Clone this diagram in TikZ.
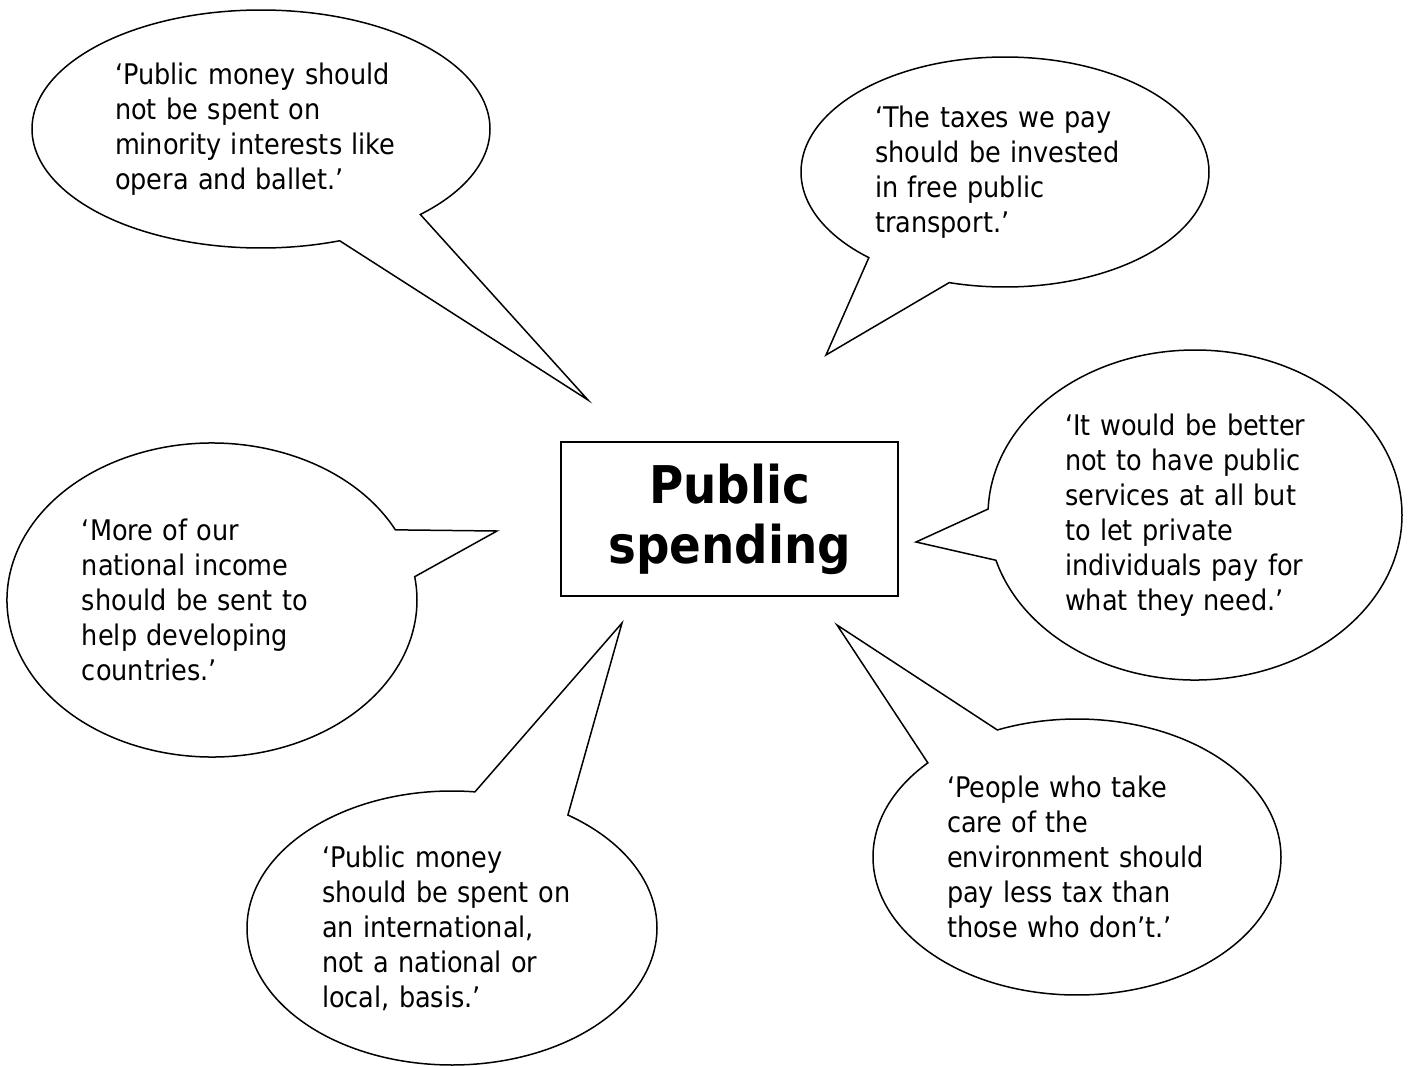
\documentclass[tikz,border=0pt]{standalone}
\usepackage{fontspec}
\setmainfont{DejaVu Sans Condensed}
\usetikzlibrary{shapes.callouts}

\begin{document}
\begin{tikzpicture}[x=0.5pt,y=-0.5pt]
  \tikzset{
    bubble/.style={
      ellipse callout,
      draw=black,
      line width=0.75pt,
      fill=white,
      align=left,
      text width=130pt,
      inner sep=0pt,
      font=\fontsize{14.2}{17.5}\selectfont
    },
    topic/.style={
      draw=black,
      line width=0.75pt,
      minimum width=168.5pt,
      minimum height=77pt,
      align=center,
      font=\bfseries\fontsize{26}{30}\selectfont
    }
  }
  \useasboundingbox (0,0) rectangle (1410,1066);

  \node[topic] (spending) at (729.5,519) {Public\\spending};

  % tips of the bubble tails
  \coordinate (operatip)   at (588,400);
  \coordinate (transtip)   at (826,355);
  \coordinate (servtip)    at (916,542);
  \coordinate (incometip)  at (497,531);
  \coordinate (basistip)   at (622,623);
  \coordinate (envirotip)  at (837,625);

  \node[bubble, text width=146pt, minimum width=229pt, minimum height=119pt,
        callout absolute pointer=(operatip), callout pointer arc=24]
        (opera) at (261,129)
        {‘Public money should\\not be spent on\\minority interests like\\opera and ballet.’};
  \node[bubble, minimum width=204pt, minimum height=115pt,
        callout absolute pointer=(transtip), callout pointer arc=26]
        (transport) at (1005,172)
        {‘The taxes we pay\\should be invested\\in free public\\transport.’};
  \node[bubble, minimum width=207pt, minimum height=165pt,
        callout absolute pointer=(servtip), callout pointer arc=18]
        (services) at (1195,515)
        {‘It would be better\\not to have public\\services at all but\\to let private\\individuals pay for\\what they need.’};
  \node[bubble, minimum width=205pt, minimum height=157pt,
        callout absolute pointer=(incometip), callout pointer arc=18]
        (income) at (212,600)
        {‘More of our\\national income\\should be sent to\\help developing\\countries.’};
  \node[bubble, minimum width=205pt, minimum height=137pt,
        callout absolute pointer=(basistip), callout pointer arc=28]
        (basis) at (452,928)
        {‘Public money\\should be spent on\\an international,\\not a national or\\local, basis.’};
  \node[bubble, minimum width=204pt, minimum height=138pt,
        callout absolute pointer=(envirotip), callout pointer arc=24]
        (environment) at (1077,857)
        {‘People who take\\care of the\\environment should\\pay less tax than\\those who don’t.’};
\end{tikzpicture}
\end{document}
